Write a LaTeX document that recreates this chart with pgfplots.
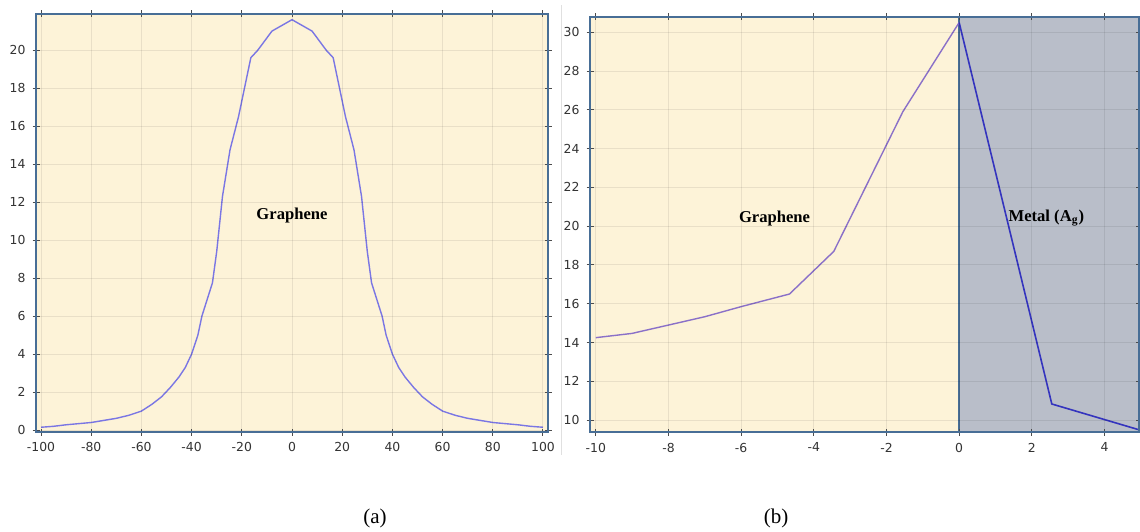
\documentclass[border=0pt]{standalone}
\usepackage{fontspec}
\setmainfont{Liberation Serif}
\newfontfamily\tickfont{DejaVu Sans}
\usepackage{pgfplots}
\pgfplotsset{compat=1.18}

\definecolor{cream}{RGB}{253,243,216}
\definecolor{metalgray}{RGB}{185,190,201}
\definecolor{steel}{RGB}{72,110,150}
\definecolor{curveA}{RGB}{122,118,228}
\definecolor{curveB}{RGB}{138,112,200}
\definecolor{curveM}{RGB}{52,52,190}

\pgfplotsset{
  panel/.style={
    scale only axis,
    anchor=south west,
    axis on top,
    axis background/.style={fill=cream},
    grid=major,
    major grid style={draw=black, opacity=0.08, line width=0.5pt},
    tick align=center,
    major tick length=3.5pt,
    tick style={black!70, line width=0.5pt},
    ticklabel style={font=\tickfont\fontsize{6.2}{7}\selectfont, text=black!80},
    /pgf/number format/assume math mode=true,
    /pgf/number format/1000 sep={},
    axis line style={steel},
  },
}

\begin{document}
\begin{tikzpicture}
\path[use as bounding box] (0pt,0pt) rectangle (570pt,265.5pt);
\draw[black!12, line width=0.5pt] (280.5pt,38pt) -- (280.5pt,263pt);

% (a) graphene profile
\begin{axis}[panel,
  at={(18pt,49.5pt)}, width=256pt, height=209pt,
  xmin=-102, xmax=102, ymin=-0.1, ymax=21.9,
  xtick={-100,-80,...,100}, ytick={0,2,...,20},
  axis line style={steel, line width=1.4pt},
]
\addplot[curveA, line width=0.7pt] coordinates {
(-100,0.15) (-95,0.2) (-90,0.28) (-80,0.4) (-70,0.62) (-65,0.78) (-60,1.0)
(-55.8,1.36) (-52,1.75) (-48.5,2.24) (-45,2.8) (-42.5,3.3) (-40,4.0)
(-37.5,5.0) (-35.9,6.0) (-33.5,7.0) (-31.7,7.75) (-30,9.4) (-27.7,12.3)
(-24.7,14.75) (-21.3,16.5) (-16.4,19.6) (-13.6,20.0) (-8,21.0) (0,21.6)
(8,21.0) (13.6,20.0) (16.4,19.6) (21.3,16.5) (24.7,14.75) (27.7,12.3)
(30,9.4) (31.7,7.75) (33.5,7.0) (35.9,6.0) (37.5,5.0) (40,4.0) (42.5,3.3)
(45,2.8) (48.5,2.24) (52,1.75) (55.8,1.36) (60,1.0) (65,0.78) (70,0.62)
(80,0.4) (90,0.28) (95,0.2) (100,0.15)};
\node[font=\bfseries\fontsize{8.3}{10}\selectfont] at (axis cs:0,11.3) {Graphene};
\end{axis}

% (b) graphene / metal interface
\begin{axis}[panel,
  at={(295pt,49.35pt)}, width=274.5pt, height=207.8pt,
  xmin=-10.16, xmax=4.95, ymin=9.37, ymax=30.8,
  xtick={-10,-8,...,4}, ytick={10,12,...,30},
  axis line style={steel, line width=1.1pt},
]
\addplot[fill=metalgray, draw=none] coordinates {(0,9.37) (4.95,9.37) (4.95,30.8) (0,30.8)} -- cycle;
\addplot[steel, line width=1pt] coordinates {(0,9.37) (0,30.8)};
\addplot[curveB, line width=0.7pt] coordinates {
(-10,14.25) (-9.0,14.47) (-8.7,14.6) (-8.0,14.9) (-7.0,15.33) (-6.0,15.85)
(-4.67,16.5) (-3.45,18.7) (-2.5,22.3) (-1.55,25.9) (0,30.5)};
\addplot[curveM, line width=0.8pt] coordinates {(0,30.5) (2.55,10.83) (4.95,9.5)};
\node[font=\bfseries\fontsize{8.3}{10}\selectfont] at (axis cs:-5.08,20.4) {Graphene};
\node[font=\bfseries\fontsize{8.3}{10}\selectfont] at (axis cs:2.4,20.4) {Metal (A\textsubscript{g})};
\end{axis}

\node[font=\fontsize{10.5}{12}\selectfont] at (187.5pt,6.5pt) {(a)};
\node[font=\fontsize{10.5}{12}\selectfont] at (388pt,6.5pt) {(b)};
\end{tikzpicture}
\end{document}
